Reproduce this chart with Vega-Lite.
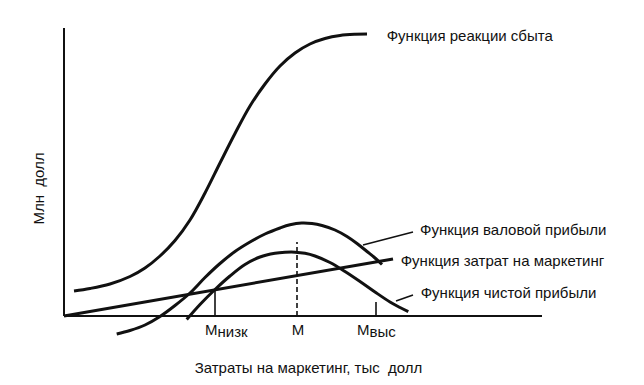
{
  "$schema": "https://vega.github.io/schema/vega-lite/v6.json",
  "width": 480,
  "height": 312,
  "autosize": {"type": "none"},
  "padding": {"left": 64, "top": 28, "right": 100, "bottom": 45},
  "background": "white",
  "config": {
    "view": {"stroke": null},
    "font": "Liberation Sans",
    "text": {"font": "Liberation Sans", "fontSize": 15, "color": "#111"}
  },
  "datasets": {
    "curves": [
      {"series": "Функция реакции сбыта", "x": 10, "y": 25},
      {"series": "Функция реакции сбыта", "x": 26, "y": 27.5},
      {"series": "Функция реакции сбыта", "x": 46, "y": 32},
      {"series": "Функция реакции сбыта", "x": 66, "y": 39.5},
      {"series": "Функция реакции сбыта", "x": 81, "y": 48},
      {"series": "Функция реакции сбыта", "x": 96, "y": 60},
      {"series": "Функция реакции сбыта", "x": 111, "y": 75.5},
      {"series": "Функция реакции сбыта", "x": 126, "y": 96},
      {"series": "Функция реакции сбыта", "x": 141, "y": 123},
      {"series": "Функция реакции сбыта", "x": 156, "y": 153},
      {"series": "Функция реакции сбыта", "x": 171, "y": 182.5},
      {"series": "Функция реакции сбыта", "x": 186, "y": 210},
      {"series": "Функция реакции сбыта", "x": 201, "y": 232},
      {"series": "Функция реакции сбыта", "x": 216, "y": 250},
      {"series": "Функция реакции сбыта", "x": 231, "y": 263},
      {"series": "Функция реакции сбыта", "x": 246, "y": 272},
      {"series": "Функция реакции сбыта", "x": 261, "y": 277.5},
      {"series": "Функция реакции сбыта", "x": 276, "y": 280.5},
      {"series": "Функция реакции сбыта", "x": 291, "y": 281.7},
      {"series": "Функция реакции сбыта", "x": 303, "y": 282},
      {"series": "Функция валовой прибыли", "x": 52.7, "y": -18},
      {"series": "Функция валовой прибыли", "x": 66, "y": -14.5},
      {"series": "Функция валовой прибыли", "x": 81, "y": -9},
      {"series": "Функция валовой прибыли", "x": 96, "y": -0.5},
      {"series": "Функция валовой прибыли", "x": 111, "y": 10.5},
      {"series": "Функция валовой прибыли", "x": 126, "y": 23},
      {"series": "Функция валовой прибыли", "x": 141, "y": 38.5},
      {"series": "Функция валовой прибыли", "x": 156, "y": 52.5},
      {"series": "Функция валовой прибыли", "x": 171, "y": 64.5},
      {"series": "Функция валовой прибыли", "x": 186, "y": 74},
      {"series": "Функция валовой прибыли", "x": 201, "y": 82},
      {"series": "Функция валовой прибыли", "x": 216, "y": 88},
      {"series": "Функция валовой прибыли", "x": 226, "y": 91.2},
      {"series": "Функция валовой прибыли", "x": 237.7, "y": 93},
      {"series": "Функция валовой прибыли", "x": 248, "y": 92.5},
      {"series": "Функция валовой прибыли", "x": 258, "y": 90.5},
      {"series": "Функция валовой прибыли", "x": 271, "y": 86},
      {"series": "Функция валовой прибыли", "x": 283, "y": 79.5},
      {"series": "Функция валовой прибыли", "x": 293, "y": 72.5},
      {"series": "Функция валовой прибыли", "x": 303, "y": 64.5},
      {"series": "Функция валовой прибыли", "x": 311, "y": 58},
      {"series": "Функция валовой прибыли", "x": 318, "y": 51.5},
      {"series": "Функция чистой прибыли", "x": 122.7, "y": -3.5},
      {"series": "Функция чистой прибыли", "x": 136, "y": 11.5},
      {"series": "Функция чистой прибыли", "x": 151, "y": 26.5},
      {"series": "Функция чистой прибыли", "x": 166, "y": 40},
      {"series": "Функция чистой прибыли", "x": 181, "y": 51.5},
      {"series": "Функция чистой прибыли", "x": 196, "y": 59},
      {"series": "Функция чистой прибыли", "x": 211, "y": 62.7},
      {"series": "Функция чистой прибыли", "x": 221, "y": 63.7},
      {"series": "Функция чистой прибыли", "x": 231, "y": 63.8},
      {"series": "Функция чистой прибыли", "x": 241, "y": 62.7},
      {"series": "Функция чистой прибыли", "x": 251, "y": 60},
      {"series": "Функция чистой прибыли", "x": 266, "y": 53.5},
      {"series": "Функция чистой прибыли", "x": 281, "y": 44.5},
      {"series": "Функция чистой прибыли", "x": 296, "y": 34.5},
      {"series": "Функция чистой прибыли", "x": 311, "y": 24},
      {"series": "Функция чистой прибыли", "x": 326, "y": 14},
      {"series": "Функция чистой прибыли", "x": 336, "y": 8.5},
      {"series": "Функция чистой прибыли", "x": 344.3, "y": 4.3}
    ],
    "segments": [
      {"kind": "axis", "x": 0, "y": 0, "x2": 478, "y2": 0},
      {"kind": "axis", "x": 0, "y": 0, "x2": 0, "y2": 288},
      {"kind": "cost", "x": 0, "y": 0, "x2": 329, "y2": 57},
      {"kind": "tick", "x": 151, "y": 0, "x2": 151, "y2": 26},
      {"kind": "tick", "x": 312, "y": 0, "x2": 312, "y2": 14},
      {"kind": "dash", "x": 233, "y": 0, "x2": 233, "y2": 74},
      {"kind": "leader", "x": 299, "y": 71, "x2": 349, "y2": 84},
      {"kind": "leader", "x": 332, "y": 15, "x2": 349, "y2": 21}
    ],
    "labels": [
      {"kind": "curve", "x": 322.7, "y": 275.3, "text": "Функция реакции сбыта"},
      {"kind": "curve", "x": 356, "y": 81.5, "text": "Функция валовой прибыли"},
      {"kind": "curve", "x": 336.7, "y": 50.5, "text": "Функция затрат на маркетинг"},
      {"kind": "curve", "x": 356.7, "y": 18, "text": "Функция чистой прибыли"},
      {"kind": "main", "x": 147.2, "y": -19, "text": "M"},
      {"kind": "main", "x": 234, "y": -19, "text": "M"},
      {"kind": "main", "x": 299.2, "y": -19, "text": "M"},
      {"kind": "sub", "x": 153.5, "y": -21, "text": "низк"},
      {"kind": "sub", "x": 305.5, "y": -21, "text": "выс"}
    ]
  },
  "layer": [
    {
      "data": {"name": "curves"},
      "mark": {"type": "line", "interpolate": "catmull-rom", "color": "#111", "strokeWidth": 3, "clip": false},
      "encoding": {
        "x": {"field": "x", "type": "quantitative", "scale": {"domain": [0, 480], "nice": false, "zero": false},
              "axis": {"title": "Затраты на маркетинг, тыс \u00a0долл", "domain": false, "ticks": false, "labels": false, "grid": false,
                       "titleFont": "Liberation Sans", "titleFontSize": 15, "titleFontWeight": "normal", "titleColor": "#111",
                       "titleBaseline": "alphabetic", "titleAnchor": "middle", "titleX": 244, "titleY": 32}},
        "y": {"field": "y", "type": "quantitative", "scale": {"domain": [-24, 288], "nice": false, "zero": false},
              "axis": {"title": "Млн \u00a0долл", "domain": false, "ticks": false, "labels": false, "grid": false,
                       "titleFont": "Liberation Sans", "titleFontSize": 15, "titleFontWeight": "normal", "titleColor": "#111",
                       "titleBaseline": "alphabetic", "titleAngle": -90, "titleAlign": "center", "titleX": -21, "titleY": 160}},
        "detail": {"field": "series"}
      }
    },
    {
      "data": {"name": "segments"},
      "transform": [{"filter": "datum.kind === 'axis'"}],
      "mark": {"type": "rule", "color": "#111", "strokeWidth": 2, "clip": false},
      "encoding": {
        "x": {"field": "x", "type": "quantitative"},
        "y": {"field": "y", "type": "quantitative"},
        "x2": {"field": "x2"},
        "y2": {"field": "y2"}
      }
    },
    {
      "data": {"name": "segments"},
      "transform": [{"filter": "datum.kind === 'cost'"}],
      "mark": {"type": "rule", "color": "#111", "strokeWidth": 3, "clip": false},
      "encoding": {
        "x": {"field": "x", "type": "quantitative"},
        "y": {"field": "y", "type": "quantitative"},
        "x2": {"field": "x2"},
        "y2": {"field": "y2"}
      }
    },
    {
      "data": {"name": "segments"},
      "transform": [{"filter": "datum.kind === 'tick' || datum.kind === 'leader'"}],
      "mark": {"type": "rule", "color": "#111", "strokeWidth": 1.6, "clip": false},
      "encoding": {
        "x": {"field": "x", "type": "quantitative"},
        "y": {"field": "y", "type": "quantitative"},
        "x2": {"field": "x2"},
        "y2": {"field": "y2"}
      }
    },
    {
      "data": {"name": "segments"},
      "transform": [{"filter": "datum.kind === 'dash'"}],
      "mark": {"type": "rule", "color": "#111", "strokeWidth": 1.6, "strokeDash": [5, 3], "clip": false},
      "encoding": {
        "x": {"field": "x", "type": "quantitative"},
        "y": {"field": "y", "type": "quantitative"},
        "x2": {"field": "x2"},
        "y2": {"field": "y2"}
      }
    },
    {
      "data": {"name": "labels"},
      "transform": [{"filter": "datum.kind === 'curve' || datum.kind === 'sub'"}],
      "mark": {"type": "text", "align": "left", "baseline": "alphabetic", "fontSize": 15, "clip": false},
      "encoding": {
        "x": {"field": "x", "type": "quantitative"},
        "y": {"field": "y", "type": "quantitative"},
        "text": {"field": "text"}
      }
    },
    {
      "data": {"name": "labels"},
      "transform": [{"filter": "datum.kind === 'main'"}],
      "mark": {"type": "text", "align": "center", "baseline": "alphabetic", "fontSize": 15, "clip": false},
      "encoding": {
        "x": {"field": "x", "type": "quantitative"},
        "y": {"field": "y", "type": "quantitative"},
        "text": {"field": "text"}
      }
    }
  ]
}
